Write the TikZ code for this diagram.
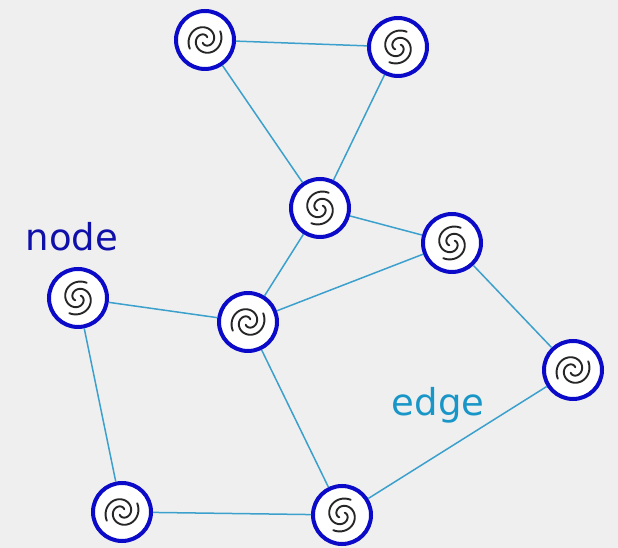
\documentclass[tikz,border=0pt]{standalone}
\usepackage{fontspec}
\setmainfont{DejaVu Sans}
\definecolor{bg}{RGB}{239,239,239}
\definecolor{nodeblue}{RGB}{10,10,200}
\definecolor{edgeblue}{RGB}{60,160,205}
\definecolor{labelblue}{RGB}{15,15,170}
\definecolor{edgelabel}{RGB}{25,150,200}
\tikzset{
  vertex/.style={circle, draw=nodeblue, line width=4pt, fill=white, minimum size=58pt, inner sep=0pt},
  link/.style={draw=edgeblue, line width=1.5pt},
  arm/.style={line width=1.9pt, line cap=round, black!85},
  pics/spiral/.style={code={
    \foreach \k in {0,180}{
      \draw[arm, rotate=\k] plot[variable=\t, domain=0:1, samples=60, smooth]
        ({(3.5+14*\t)*cos(#1+340*(1-\t))},{(3.5+14*\t)*sin(#1+340*(1-\t))});
    }}},
  lbl/.style={font=\fontsize{37}{40}\selectfont, inner sep=0pt},
}
\begin{document}
\begin{tikzpicture}[x=1pt,y=1pt]
  \fill[bg] (0,0) rectangle (618,548);
  \useasboundingbox (0,0) rectangle (618,548);
  \node[vertex] (A) at (205,508) {};
  \node[vertex] (B) at (398,501) {};
  \node[vertex] (C) at (320,340) {};
  \node[vertex] (D) at (452,305) {};
  \node[vertex] (E) at (78,250) {};
  \node[vertex] (F) at (248,226) {};
  \node[vertex] (G) at (573,178) {};
  \node[vertex] (H) at (122,36) {};
  \node[vertex] (I) at (342,33) {};
  \foreach \a/\b in {A/B, A/C, B/C, C/D, C/F, D/F, D/G, E/F, E/H, F/I, H/I, G/I}
    \draw[link] (\a) -- (\b);
  % S-type spirals
  \foreach \n in {B,C,D,E,I}
    \pic at (\n) {spiral=60};
  % @-type spirals (mirrored)
  \foreach \n in {A,F,G,H}
    \pic[xscale=-1] at (\n) {spiral=150};
  \node[lbl, text=labelblue] (nodelabel) at (72,311) {node};
  \node[lbl, text=edgelabel] (edgelabel) at (438,143) {edge};
\end{tikzpicture}
\end{document}
